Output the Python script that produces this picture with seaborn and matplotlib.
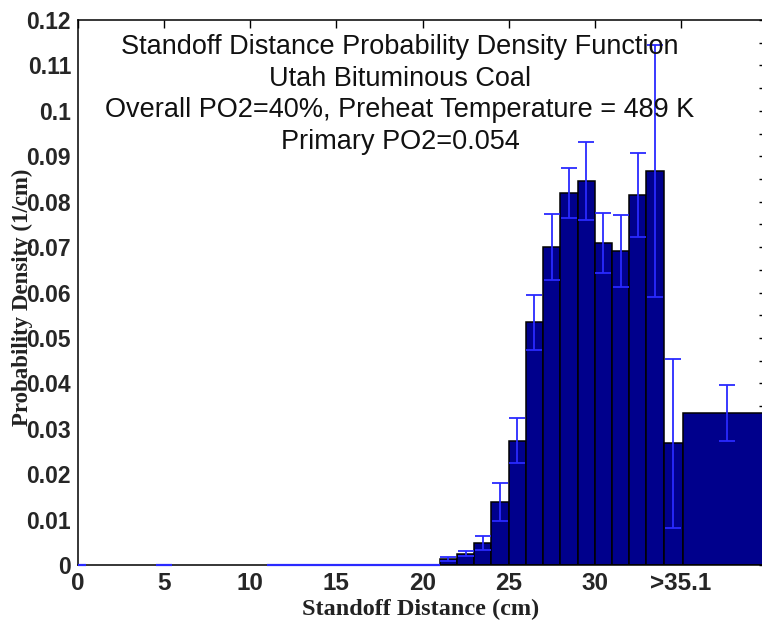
import numpy as np
import pandas as pd
import matplotlib
matplotlib.use("Agg")
import matplotlib.pyplot as plt
import seaborn as sns
from matplotlib.ticker import MultipleLocator

# ---- data ----
bin_edges = [21, 22, 23, 24, 25, 26, 27, 28, 29, 30, 31, 32, 33, 34, 35.1, 40.2]
density = [0.0013, 0.0025, 0.0048, 0.0139, 0.0274, 0.0534, 0.0700, 0.0819,
           0.0846, 0.0709, 0.0692, 0.0815, 0.0867, 0.0268, 0.0335]
density_err = [0.0005, 0.0005, 0.0016, 0.0042, 0.0049, 0.0060, 0.0072, 0.0055,
               0.0086, 0.0066, 0.0079, 0.0092, 0.0277, 0.0186, 0.0062]
zero_err_segments = [(0.0, 0.45), (4.55, 5.45), (11.0, 21.0)]
x_ticks = [0, 5, 10, 15, 20, 25, 30, 35]
x_tick_labels = ["0", "5", "10", "15", "20", "25", "30", ">35.1"]
y_ticks = [0, 0.01, 0.02, 0.03, 0.04, 0.05, 0.06, 0.07, 0.08, 0.09, 0.1, 0.11, 0.12]
y_tick_labels = ["0", "0.01", "0.02", "0.03", "0.04", "0.05", "0.06", "0.07",
                 "0.08", "0.09", "0.1", "0.11", "0.12"]
title_lines = ["Standoff Distance Probability Density Function",
               "Utah Bituminous Coal",
               "Overall PO2=40%, Preheat Temperature = 489 K",
               "Primary PO2=0.054"]

edges = np.array(bin_edges)
centers = (edges[:-1] + edges[1:]) / 2
df = pd.DataFrame({"distance": centers, "density": density, "err": density_err})

sns.set_style("white")
plt.rcParams["font.family"] = ["Liberation Sans", "DejaVu Sans"]

W, H = 762, 621
fig = plt.figure(figsize=(W / 100, H / 100), dpi=100)
ax = fig.add_axes([78 / W, 1 - 565 / H, 689 / W, (565 - 20) / H])

sns.histplot(data=df, x="distance", weights="density", bins=bin_edges, stat="count",
             color="#00008c", edgecolor="black", linewidth=1.1, alpha=1.0, ax=ax)

ax.errorbar(df["distance"], df["density"], yerr=df["err"], fmt="none",
            ecolor="#2a2aff", elinewidth=1.3, capsize=6, capthick=1.3, zorder=5)
for a, b in zero_err_segments:
    ax.hlines(0, a, b, colors="#2a2aff", linewidth=1.6, zorder=6, clip_on=False)

ax.set_xlim(0, 40)
ax.set_ylim(0, 0.12)
ax.set_xticks(x_ticks)
ax.set_xticklabels(x_tick_labels, fontsize=17.5, fontweight="bold")
ax.set_yticks(y_ticks)
ax.set_yticklabels(y_tick_labels, fontsize=16.5, fontweight="bold")
ax.yaxis.set_minor_locator(MultipleLocator(0.005))
ax.tick_params(axis="both", which="both", direction="in", length=6, width=1.0,
               color="black", top=True, right=True)
ax.tick_params(axis="x", pad=5)
ax.tick_params(axis="y", pad=5)
ax.set_xlabel("")
ax.set_ylabel("")
for s in ax.spines.values():
    s.set_color("black")
    s.set_linewidth(1.1)

# title block
baselines = [54, 86, 117, 149]
for line, yb in zip(title_lines, baselines):
    fig.text(400 / W, 1 - yb / H, line, ha="center", va="baseline",
             fontsize=19.5, color="#111111")

fig.text(421 / W, 1 - 615 / H, "Standoff Distance (cm)", ha="center", va="baseline",
         fontsize=17.5, fontweight="bold", family=["Liberation Serif", "DejaVu Serif"],
         color="#222222")
fig.text(22 / W, 1 - 297 / H, "Probability Density (1/cm)", ha="center", va="center",
         rotation=90, fontsize=16.5, fontweight="bold",
         family=["Liberation Serif", "DejaVu Serif"], color="#222222")

fig.savefig("out.png", dpi=100)
